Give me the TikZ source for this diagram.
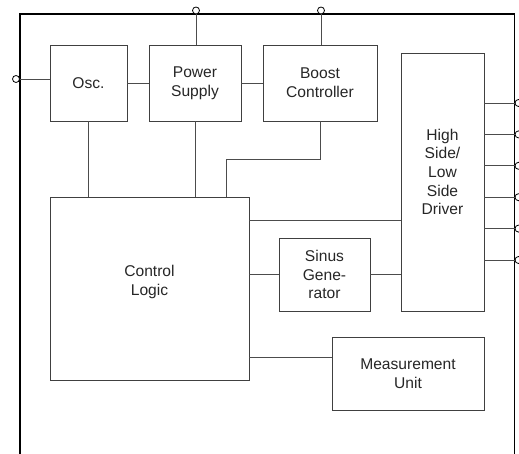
\documentclass[tikz,border=0pt]{standalone}
\usepackage{fontspec}
\setmainfont{Liberation Sans}
\usepackage{tikz}
\usetikzlibrary{positioning,calc}

\tikzset{
  blk/.style = {draw = black!75, line width = 0.9pt, rectangle, align = center,
                inner sep = 0pt, font = \fontsize{15.6}{18.6}\selectfont, text = black!85},
  wire/.style = {draw = black!70, line width = 0.9pt},
  pin/.style = {draw = black, fill = white, circle, line width = 0.8pt,
                inner sep = 0pt, minimum size = 7pt}
}

\begin{document}
\begin{tikzpicture}[x = 1pt, y = -1pt]
\useasboundingbox (0,0) rectangle (519,454);
\draw[line width = 1.1pt] (20,454) |- (514.5,14) -- (514.5,454);
\node[blk, minimum width = 77pt, minimum height = 76pt] (osc) at (88.5,83) {Osc.};
\node[blk, minimum width = 92pt, minimum height = 76pt] (psu) at (195,83) {Power\\Supply};
\node[blk, minimum width = 114pt, minimum height = 76pt] (boost) at (320,83) {Boost\\Controller};
\node[blk, minimum width = 83pt, minimum height = 258pt] (drv) at (442.5,182) {};
\node[blk, draw = none, fill = none] (drvtxt) at (442.5,172) {High\\Side/\\Low\\Side\\Driver};
\node[blk, minimum width = 199pt, minimum height = 183pt] (logic) at (149.5,288.5) {};
\node[blk, draw = none, fill = none] (logictxt) at (149.5,282) {Control\\Logic};
\node[blk, minimum width = 91pt, minimum height = 73pt] (sinus) at (324.5,274.5) {Sinus\\Gene-\\rator};
\node[blk, minimum width = 152pt, minimum height = 73pt] (meas) at (408,373.5) {Measurement\\Unit};
\node[pin] (clk) at (16,79) {};
\node[pin] (vs) at (196,10.5) {};
\node[pin] (vb) at (321,10.5) {};
\coordinate (jog) at (226,159);
\draw[wire] (clk) -- (clk -| osc.west);
\draw[wire] (osc) -- (psu);
\draw[wire] (psu) -- (boost);
\draw[wire] (vs) -- (vs |- psu.north);
\draw[wire] (vb) -- (vb |- boost.north);
\draw[wire] (osc.south) -- (osc.south |- logic.north);
\draw[wire] (psu.south) -- (psu.south |- logic.north);
\draw[wire] (boost.south) |- (jog) -- (jog |- logic.north);
\draw[wire] (logic.east |- 0,220) -- (drv.west |- 0,220);
\draw[wire] (logic.east |- sinus.west) -- (sinus.west);
\draw[wire] (sinus.east) -- (sinus.east -| drv.west);
\draw[wire] (logic.east |- 0,357) -- (meas.west |- 0,357);
\foreach \i in {0,...,5} {
  \node[pin] (out\i) at (518.5,{103+31.4*\i}) {};
  \draw[wire] (drv.east |- out\i) -- (out\i);
}
\end{tikzpicture}
\end{document}
